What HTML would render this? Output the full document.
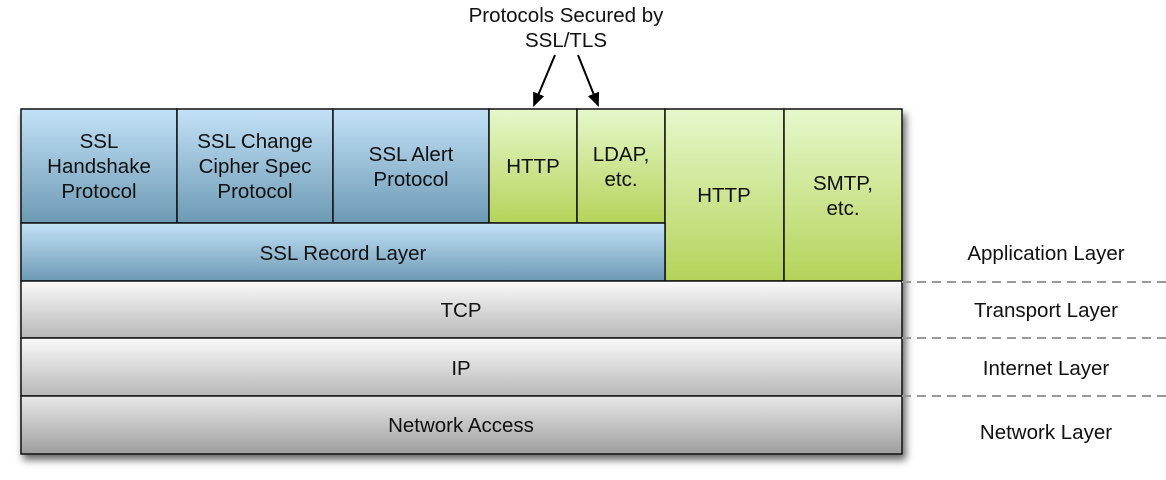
<!DOCTYPE html>
<html><head><meta charset="utf-8"><style>body{margin:0;background:#fff}svg{display:block}</style></head><body>
<svg width="1166" height="480" xmlns="http://www.w3.org/2000/svg" font-family="Liberation Sans, sans-serif" font-size="20.5" fill="#111">
<defs>
<linearGradient id="b" x1="0" y1="0" x2="0" y2="1"><stop offset="0" stop-color="#c3e2f8"/><stop offset="1" stop-color="#6d9ab4"/></linearGradient>
<linearGradient id="g" x1="0" y1="0" x2="0" y2="1"><stop offset="0" stop-color="#e6f8cc"/><stop offset="1" stop-color="#b5d35a"/></linearGradient>
<linearGradient id="w" x1="0" y1="0" x2="0" y2="1"><stop offset="0" stop-color="#fafafa"/><stop offset="1" stop-color="#b8b8b8"/></linearGradient>
<linearGradient id="d" x1="0" y1="0" x2="0" y2="1"><stop offset="0" stop-color="#e8e8e8"/><stop offset="1" stop-color="#9e9e9e"/></linearGradient>
<filter id="s" x="-5%" y="-5%" width="110%" height="115%"><feGaussianBlur stdDeviation="4"/></filter>
<marker id="a" markerWidth="14" markerHeight="12" refX="12" refY="6" orient="auto" markerUnits="userSpaceOnUse"><path d="M0,0 L14,6 L0,12 z" fill="#000"/></marker>
</defs>
<rect x="23" y="114" width="883" height="346" fill="#666" filter="url(#s)"/>
<g stroke="#111" stroke-width="1.5">
<rect x="21" y="109" width="156" height="114" fill="url(#b)"/>
<rect x="177" y="109" width="156" height="114" fill="url(#b)"/>
<rect x="333" y="109" width="156" height="114" fill="url(#b)"/>
<rect x="489" y="109" width="88" height="114" fill="url(#g)"/>
<rect x="577" y="109" width="88" height="114" fill="url(#g)"/>
<rect x="665" y="109" width="119" height="172" fill="url(#g)"/>
<rect x="784" y="109" width="118" height="172" fill="url(#g)"/>
<rect x="21" y="223" width="644" height="58" fill="url(#b)"/>
<rect x="21" y="281" width="881" height="57" fill="url(#w)"/>
<rect x="21" y="338" width="881" height="58" fill="url(#w)"/>
<rect x="21" y="396" width="881" height="58" fill="url(#d)"/>
</g>
<g stroke="#999" stroke-width="2" stroke-dasharray="9,6">
<line x1="902" y1="282" x2="1166" y2="282"/><line x1="902" y1="338" x2="1166" y2="338"/><line x1="902" y1="396" x2="1166" y2="396"/>
</g>
<g stroke="#000" stroke-width="2"><line x1="555" y1="55" x2="534" y2="105" marker-end="url(#a)"/><line x1="578" y1="55" x2="598" y2="105" marker-end="url(#a)"/></g>
<g text-anchor="middle">
<text x="566" y="22">Protocols Secured by</text><text x="566" y="47">SSL/TLS</text>
<text x="99" y="148">SSL</text><text x="99" y="173">Handshake</text><text x="99" y="198">Protocol</text>
<text x="255" y="148">SSL Change</text><text x="255" y="173">Cipher Spec</text><text x="255" y="198">Protocol</text>
<text x="411" y="161">SSL Alert</text><text x="411" y="186">Protocol</text>
<text x="533" y="173">HTTP</text>
<text x="621" y="161">LDAP,</text><text x="621" y="186">etc.</text>
<text x="724" y="202">HTTP</text>
<text x="843" y="190">SMTP,</text><text x="843" y="215">etc.</text>
<text x="343" y="260">SSL Record Layer</text>
<text x="461" y="317">TCP</text>
<text x="461" y="375">IP</text>
<text x="461" y="432">Network Access</text>
<text x="1046" y="260">Application Layer</text>
<text x="1046" y="317">Transport Layer</text>
<text x="1046" y="375">Internet Layer</text>
<text x="1046" y="439">Network Layer</text>
</g>
</svg>
</body></html>
